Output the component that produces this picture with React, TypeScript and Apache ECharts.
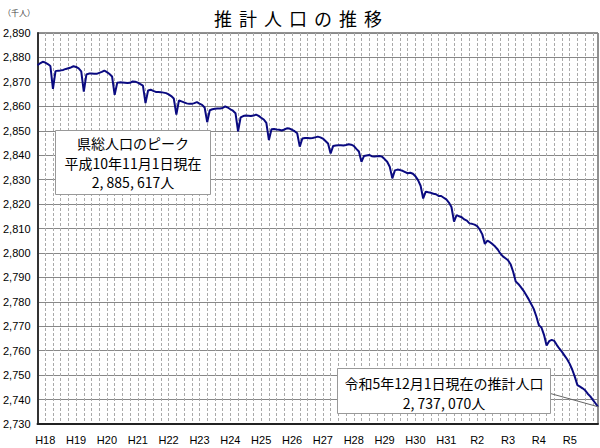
import React, { useEffect, useRef } from "react";
import * as echarts from "echarts";

// Monthly estimated population (thousands), Oct 2005 – Dec 2023
const popH17 = [2876.8, 2877.6, 2878.2]; // Oct–Dec 2005
const popH18 = [2877.9, 2877.3, 2876.5, 2867.1, 2874.4, 2874.6, 2874.7, 2874.9, 2875.3, 2875.6, 2875.9, 2876.4];
const popH19 = [2876.1, 2875.5, 2874.3, 2866.0, 2873.0, 2873.4, 2873.4, 2873.3, 2873.3, 2873.7, 2874.1, 2874.6];
const popH20 = [2874.0, 2873.2, 2872.2, 2864.7, 2869.6, 2869.8, 2869.7, 2869.6, 2869.5, 2869.6, 2870.2, 2870.1];
const popH21 = [2869.7, 2869.1, 2868.5, 2861.3, 2866.5, 2866.8, 2866.3, 2865.9, 2865.9, 2865.8, 2865.6, 2865.4];
const popH22 = [2864.9, 2864.2, 2863.2, 2856.6, 2862.4, 2862.0, 2861.6, 2861.2, 2861.0, 2861.0, 2861.3, 2861.7];
const popH23 = [2861.1, 2860.6, 2859.5, 2853.5, 2858.4, 2858.8, 2859.0, 2859.1, 2859.1, 2859.3, 2860.0, 2859.5];
const popH24 = [2858.8, 2858.2, 2857.2, 2849.8, 2855.5, 2856.0, 2856.2, 2856.1, 2856.0, 2856.2, 2856.6, 2856.1];
const popH25 = [2855.3, 2854.6, 2853.2, 2846.2, 2850.6, 2850.7, 2850.5, 2850.4, 2850.1, 2850.5, 2851.0, 2850.9];
const popH26 = [2850.4, 2849.8, 2849.0, 2843.5, 2846.8, 2847.0, 2847.0, 2846.9, 2847.0, 2847.3, 2847.6, 2847.3];
const popH27 = [2846.8, 2845.8, 2844.8, 2840.7, 2843.8, 2844.0, 2844.1, 2844.1, 2844.0, 2844.2, 2844.5, 2844.3];
const popH28 = [2843.8, 2842.6, 2841.5, 2837.3, 2839.7, 2839.9, 2840.1, 2839.6, 2839.5, 2839.6, 2839.7, 2839.4];
const popH29 = [2838.4, 2837.3, 2835.3, 2830.5, 2833.8, 2834.1, 2833.9, 2833.6, 2833.1, 2832.6, 2832.8, 2832.4];
const popH30 = [2831.4, 2829.8, 2827.5, 2822.3, 2825.1, 2824.8, 2824.6, 2824.2, 2824.0, 2823.3, 2823.3, 2822.6];
const popH31 = [2821.9, 2820.6, 2818.8, 2812.8, 2815.5, 2815.0, 2814.6, 2813.7, 2813.2, 2812.1, 2811.9, 2811.6];
const popR2 = [2811.0, 2809.6, 2807.6, 2803.7, 2805.0, 2804.4, 2803.6, 2802.6, 2801.4, 2799.8, 2798.6, 2797.8];
const popR3 = [2797.0, 2795.4, 2792.3, 2788.3, 2787.3, 2786.0, 2784.6, 2782.9, 2781.1, 2779.1, 2777.1, 2774.1];
const popR4 = [2770.4, 2769.5, 2766.5, 2762.1, 2763.9, 2764.4, 2764.0, 2762.3, 2760.8, 2759.5, 2758.0, 2756.5];
const popR5 = [2754.6, 2752.2, 2749.3, 2745.9, 2745.3, 2744.6, 2743.8, 2742.4, 2741.3, 2739.9, 2738.5, 2737.07];

const yearLabels = ["H18", "H19", "H20", "H21", "H22", "H23", "H24", "H25", "H26", "H27", "H28", "H29", "H30", "H31", "R2", "R3", "R4", "R5"];
const startYear = 2005;
const startMonth = 10;

const titleChars = ["推", "計", "人", "口", "の", "推", "移"];
const unitText = "（千人）";
const peakLines = ["県総人口のピーク", "平成10年11月1日現在", "2, 885, 617人"];
const latestLines = ["令和5年12月1日現在の推計人口", "2, 737, 070人"];

const population = [
  ...popH17, ...popH18, ...popH19, ...popH20, ...popH21, ...popH22, ...popH23, ...popH24, ...popH25,
  ...popH26, ...popH27, ...popH28, ...popH29, ...popH30, ...popH31, ...popR2, ...popR3, ...popR4, ...popR5,
];

const categories: string[] = population.map((_, i) => {
  const m = startMonth - 1 + i;
  const y = startYear + Math.floor(m / 12);
  return `${y}-${String((m % 12) + 1).padStart(2, "0")}`;
});

const JP = "'Noto Sans CJK JP', 'Noto Sans', sans-serif";

export default function App() {
  const ref = useRef<HTMLDivElement>(null);
  useEffect(() => {
    if (!ref.current) return;
    const chart = echarts.init(ref.current, undefined, { renderer: "svg" });
    const option: any = {
      animation: false,
      backgroundColor: "#fff",
      grid: {
        left: 37, right: 2, top: 33, bottom: 24,
        show: true, borderColor: "#222", borderWidth: 1, backgroundColor: "transparent",
      },
      xAxis: {
        type: "category",
        boundaryGap: false,
        data: categories,
        axisLine: { show: true, lineStyle: { color: "#222", width: 2 } },
        axisTick: { show: false },
        axisLabel: {
          interval: (i: number) => i >= 3 && (i - 3) % 12 === 0,
          formatter: (_v: string, i: number) => yearLabels[(i - 3) / 12] ?? "",
          fontSize: 11,
          color: "#000",
          margin: 10,
          fontFamily: "'Liberation Sans Narrow', 'Liberation Sans', sans-serif",
        },
        splitLine: {
          show: true,
          interval: (i: number) => i % 3 === 0,
          lineStyle: { color: "#aaa", width: 1, type: [3, 2] },
        },
      },
      yAxis: {
        type: "value",
        min: 2730,
        max: 2890,
        interval: 10,
        axisLine: { show: true, lineStyle: { color: "#333", width: 2 } },
        axisTick: { show: false },
        axisLabel: {
          formatter: (v: number) => v.toLocaleString("en-US"),
          fontSize: 11,
          color: "#000",
          margin: 7,
          fontFamily: "'Liberation Sans', Arial, sans-serif",
        },
        splitLine: { show: true, lineStyle: { color: "#888", width: 1 } },
      },
      series: [
        {
          type: "line",
          data: population,
          showSymbol: false,
          symbol: "none",
          lineStyle: { color: "#0a0a80", width: 2 },
          z: 5,
        },
      ],
    };
    chart.setOption(option);

    const last = population.length - 1;
    const endPt = chart.convertToPixel({ seriesIndex: 0 }, [last, population[last]]) as number[];

    const graphics: any[] = [];
    titleChars.forEach((ch, i) => {
      graphics.push({
        type: "text",
        x: 223 + i * 25,
        y: 18,
        style: { text: ch, fontSize: 18, fontFamily: JP, fill: "#000", textAlign: "center", textVerticalAlign: "middle" },
      });
    });
    graphics.push({
      type: "text",
      x: 3,
      y: 12,
      style: { text: unitText, fontSize: 8, fontFamily: JP, fill: "#444", textAlign: "left", textVerticalAlign: "middle" },
    });
    // peak box
    graphics.push({
      type: "rect",
      shape: { x: 55.5, y: 130.5, width: 155, height: 64 },
      style: { fill: "#fff", stroke: "#999", lineWidth: 1 },
      z: 10,
    });
    peakLines.forEach((t, i) => {
      graphics.push({
        type: "text",
        x: 133,
        y: 143 + i * 19.5,
        style: { text: t, fontSize: 14, fontFamily: JP, fill: "#000", textAlign: "center", textVerticalAlign: "middle" },
        z: 11,
      });
    });
    // leader line
    graphics.push({
      type: "line",
      shape: { x1: 545, y1: 392, x2: endPt[0], y2: endPt[1] },
      style: { stroke: "#666", lineWidth: 1 },
      z: 9,
    });
    // latest box
    graphics.push({
      type: "rect",
      shape: { x: 337.5, y: 368.5, width: 213, height: 45 },
      style: { fill: "#fff", stroke: "#999", lineWidth: 1 },
      z: 10,
    });
    latestLines.forEach((t, i) => {
      graphics.push({
        type: "text",
        x: 444,
        y: 383 + i * 19.5,
        style: { text: t, fontSize: 14, fontFamily: JP, fill: "#000", textAlign: "center", textVerticalAlign: "middle" },
        z: 11,
      });
    });
    chart.setOption({ graphic: graphics });

    return () => chart.dispose();
  }, []);
  return (
    <div
      ref={ref}
      style={{ position: "fixed", left: 0, top: 0, width: 600, height: 448, background: "#fff" }}
    />
  );
}
